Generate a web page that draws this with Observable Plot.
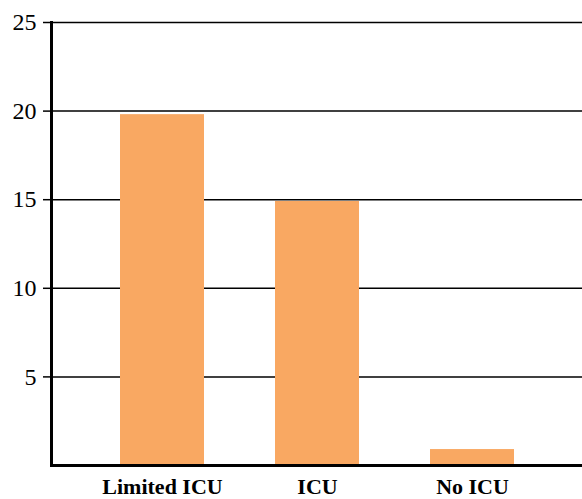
<!DOCTYPE html>
<html>
<head>
<meta charset="utf-8">
<script src="https://cdn.jsdelivr.net/npm/d3@7"></script>
<script src="https://cdn.jsdelivr.net/npm/@observablehq/plot@0.6"></script>
<style>
  html, body { margin: 0; padding: 0; background: #fff; }
  #chart svg { display: block; }
</style>
</head>
<body>
<div id="chart"></div>
<script>
const categories = ["Limited ICU", "ICU", "No ICU"];
const values = [19.8, 14.9, 0.9];
const yTicks = [5, 10, 15, 20, 25];

const data = categories.map((c, i) => ({category: c, value: values[i]}));

const chart = Plot.plot({
  width: 582,
  height: 499,
  marginLeft: 51,
  marginRight: 0,
  marginTop: 22,
  marginBottom: 34,
  style: {fontFamily: "'Liberation Serif', serif", background: "#fff", color: "#000"},
  x: {domain: categories, paddingInner: 0.46, paddingOuter: 0.44, label: null},
  y: {domain: [0, 25], label: null},
  marks: [
    Plot.gridY(yTicks, {stroke: "#000", strokeOpacity: 1, strokeWidth: 1.5}),
    Plot.barY(data, {x: "category", y: "value", fill: "#F9A862"}),
    Plot.axisY(yTicks, {tickSize: 8, tickPadding: 7, fontSize: 24, stroke: "#000", strokeWidth: 1.5, label: null}),
    Plot.axisX({tickSize: 0, tickPadding: 13, fontSize: 22, fontWeight: "bold", label: null}),
    Plot.frame({anchor: "left", stroke: "#000", strokeWidth: 3}),
    Plot.ruleY([0], {stroke: "#000", strokeWidth: 3})
  ]
});
document.getElementById("chart").appendChild(chart);
</script>
</body>
</html>
